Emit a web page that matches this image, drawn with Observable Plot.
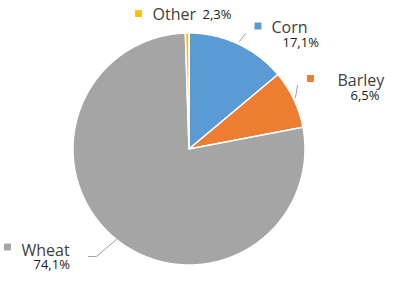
<!DOCTYPE html>
<html>
<head>
<meta charset="utf-8">
<script src="https://cdn.jsdelivr.net/npm/d3@7"></script>
<script src="https://cdn.jsdelivr.net/npm/@observablehq/plot@0.6"></script>
<style>
  html, body { margin: 0; padding: 0; background: #fff; }
  #chart svg { display: block; }
</style>
</head>
<body>
<div id="chart"></div>
<script>
// ---- data (clockwise from 12 o'clock) ----
const categories = ["Corn", "Barley", "Wheat", "Other"];
const shares = [13.9, 8.1, 77.5, 0.5];            // slice sizes as drawn
const shareLabels = ["17,1%", "6,5%", "74,1%", "2,3%"]; // printed data labels
const colors = ["#5B9BD5", "#ED7D31", "#A5A5A5", "#FFC000"];

// ---- layout (pixels) ----
const W = 406, H = 285;
const cx = 188.5, cy = 148.5, R = 116;
const toX = px => (px - cx) / R;
const toY = py => (cy - py) / R;
const labelLayout = {
  Corn:   {marker: [257.5, 25.5], name: [271, 26.9], pct: [282, 42.8], leader: [[239, 41], [245, 33]]},
  Barley: {marker: [310, 78],     name: [337, 79.9], pct: [350, 95.8], leader: [[295, 97], [297, 85]]},
  Wheat:  {marker: [7, 246.5],    name: [21, 249.9], pct: [33, 264.8], leader: [[88, 256], [96, 256], [116, 239]]},
  Other:  {marker: [138, 13],     name: [152, 13.9], pct: [202, 14.8], leader: null}
};

const data = categories.map((name, i) => ({name, value: shares[i], label: shareLabels[i], color: colors[i]}));
const arcs = d3.pie().sort(null).value(d => d.value)(data);

// slice outlines in unit coordinates
const slices = arcs.map(a => {
  const pts = [{x: 0, y: 0}];
  const n = Math.max(2, Math.ceil((a.endAngle - a.startAngle) / (Math.PI / 360)));
  for (let k = 0; k <= n; k++) {
    const t = a.startAngle + (a.endAngle - a.startAngle) * k / n;
    pts.push({x: Math.sin(t), y: Math.cos(t)});
  }
  pts.push({x: 0, y: 0});
  return {d: a.data, pts};
});

const labels = data.map(d => {
  const L = labelLayout[d.name];
  return {
    ...d,
    mx: toX(L.marker[0]), my: toY(L.marker[1]),
    nx: toX(L.name[0]), ny: toY(L.name[1]),
    px: toX(L.pct[0]), py: toY(L.pct[1])
  };
});
const leaders = data.flatMap(d => {
  const L = labelLayout[d.name].leader;
  return L ? L.map(p => ({name: d.name, x: toX(p[0]), y: toY(p[1])})) : [];
});

const marks = [];
for (const s of slices) {
  marks.push(Plot.line(s.pts, {x: "x", y: "y", fill: s.d.color, stroke: "#fff", strokeWidth: 1.5, strokeLinejoin: "round"}));
}
marks.push(
  Plot.line(leaders, {x: "x", y: "y", z: "name", stroke: "#a0a0a0", strokeWidth: 1}),
  Plot.dot(labels, {x: "mx", y: "my", symbol: "square", r: 3.9, fill: "color", stroke: null}),
  Plot.text(labels, {x: "nx", y: "ny", text: "name", textAnchor: "start", fontSize: 16, fill: "#404040"}),
  Plot.text(labels, {x: "px", y: "py", text: "label", textAnchor: "start", fontSize: 13, fill: "#1a1a1a"})
);

const chart = Plot.plot({
  width: W, height: H,
  margin: 0,
  style: {fontFamily: "'Open Sans', 'Noto Sans', sans-serif", background: "#fff"},
  x: {domain: [-1, 1], range: [cx - R, cx + R], axis: null},
  y: {domain: [-1, 1], range: [cy + R, cy - R], axis: null},
  marks
});
document.getElementById("chart").appendChild(chart);
</script>
</body>
</html>
